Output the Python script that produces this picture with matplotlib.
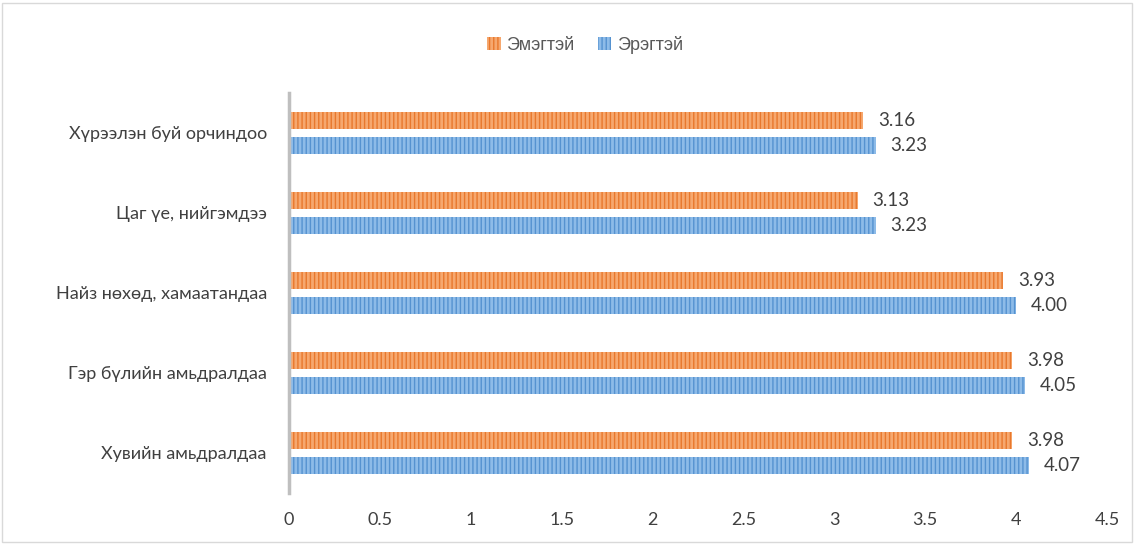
import matplotlib
matplotlib.use("Agg")
import matplotlib.pyplot as plt
import numpy as np
from matplotlib.patches import Rectangle

categories = ["Хувийн амьдралдаа", "Гэр бүлийн амьдралдаа", "Найз нөхөд, хамаатандаа",
              "Цаг үе, нийгэмдээ", "Хүрээлэн буй орчиндоо"]
female = [3.98, 3.98, 3.93, 3.13, 3.16]
male = [4.07, 4.05, 4.00, 3.23, 3.23]
xticks = [0, 0.5, 1, 1.5, 2, 2.5, 3, 3.5, 4, 4.5]
xticklabels = ["0", "0.5", "1", "1.5", "2", "2.5", "3", "3.5", "4", "4.5"]

plt.rcParams['font.family'] = ['Lato', 'DejaVu Sans']
plt.rcParams['hatch.linewidth'] = 1.0

fig = plt.figure(figsize=(11.37, 5.44), dpi=100)
ax = fig.add_axes([289/1137, 1-493/544, (1107-289)/1137, 400/544])

y = np.arange(len(categories))
h = 0.21
off = 0.155
orange_face = "#F6A86F"
orange_hatch = "#E8782D"
blue_face = "#8DBBE8"
blue_hatch = "#5592D0"

b1 = ax.barh(y + off, female, height=h, color=orange_face, edgecolor=orange_hatch,
             hatch='||||', linewidth=0, label="Эмэгтэй")
b2 = ax.barh(y - off, male, height=h, color=blue_face, edgecolor=blue_hatch,
             hatch='||||', linewidth=0, label="Эрэгтэй")

for yi, v in zip(y + off, female):
    ax.text(v + 0.08, yi, f"{v:.2f}", va='center', ha='left', fontsize=13.5, color="#404040")
for yi, v in zip(y - off, male):
    ax.text(v + 0.08, yi, f"{v:.2f}", va='center', ha='left', fontsize=13.5, color="#404040")

ax.set_xlim(0, 4.5)
ax.set_ylim(-0.5, 4.5)
ax.set_xticks(xticks)
ax.set_xticklabels(xticklabels)
ax.set_yticks(y)
ax.set_yticklabels(categories)
ax.tick_params(axis='both', length=0, labelsize=13, colors="#404040")
ax.tick_params(axis='x', pad=14)
ax.tick_params(axis='y', pad=16)
for s in ['top', 'right', 'bottom']:
    ax.spines[s].set_visible(False)
ax.spines['left'].set_color("#BFBFBF")
ax.spines['left'].set_linewidth(2.5)

leg = fig.legend(handles=[b1, b2], loc='center', bbox_to_anchor=(585/1137, 1-45/544), ncol=2,
                 frameon=False, handlelength=0.75, handleheight=0.75, handletextpad=0.3,
                 columnspacing=1.3, prop={'family': ['Liberation Sans', 'DejaVu Sans'], 'size': 13})
for t in leg.get_texts():
    t.set_color("#595959")

fig.patches.append(Rectangle((0.002, 0.004), 0.994, 0.99, transform=fig.transFigure,
                             fill=False, edgecolor="#D9D9D9", linewidth=1))

fig.savefig("out.png", dpi=100)
